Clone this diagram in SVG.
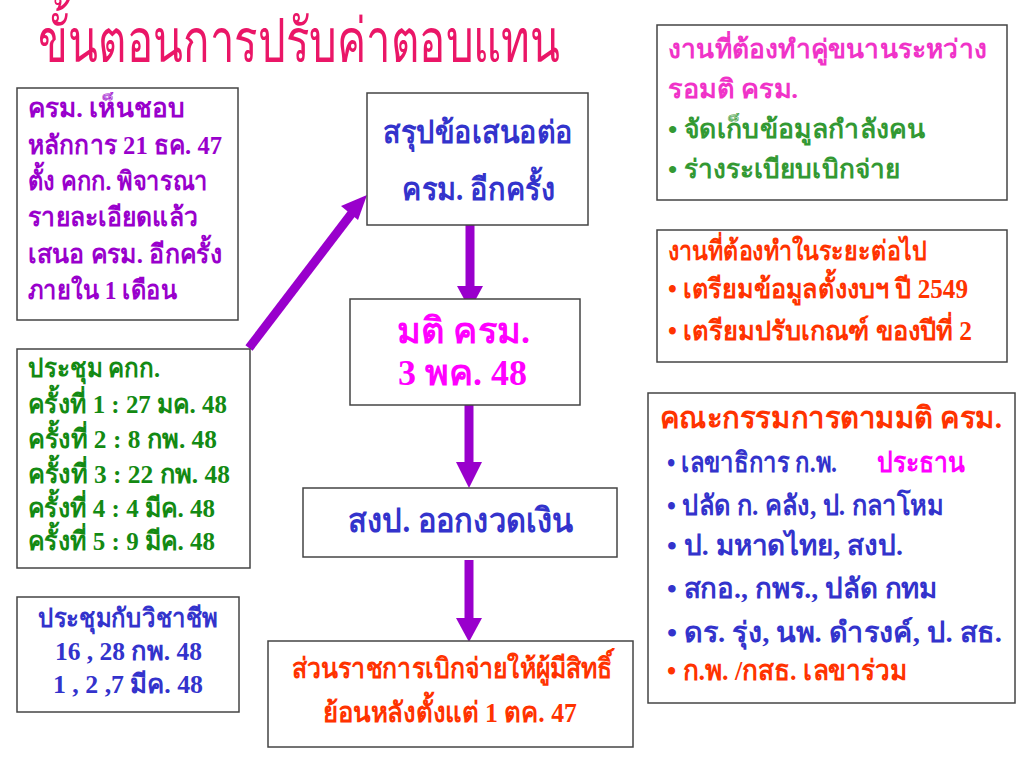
<svg xmlns="http://www.w3.org/2000/svg" width="1024" height="768" viewBox="0 0 1024 768">
<defs>
<style>
text{font-family:"Liberation Serif",serif;font-weight:bold}
.box{fill:#fff;stroke:#444;stroke-width:1.5}
.pu{fill:#9900CC;font-size:26px}
.gr{fill:#138A13;font-size:26px}
.bl{fill:#3333CC}
.mg{fill:#FF00FF}
.rd{fill:#FF3300}
.pk{fill:#F033C8}
.lg{fill:#339933}
.arr{stroke:#9900CC;stroke-width:9;fill:none}
.head{fill:#9900CC}
</style>
</defs>
<rect width="1024" height="768" fill="#fff"/>
<text x="0" y="0" font-size="44" transform="translate(38,62) scale(1,1.4)" textLength="522" lengthAdjust="spacingAndGlyphs" style="font-weight:normal" fill="#EA1667">ขั้นตอนการปรับค่าตอบแทน</text>

<g id="connectors">
<line class="arr" x1="249" y1="348" x2="352" y2="213"/>
<polygon class="head" points="367,195 341,206 358,220"/>
<line class="arr" x1="470" y1="225" x2="470" y2="288"/>
<polygon class="head" points="457,286 483,286 470,310"/>
<line class="arr" x1="469" y1="405" x2="469" y2="464"/>
<polygon class="head" points="456,462 482,462 469,488"/>
<line class="arr" x1="469" y1="560" x2="469" y2="620"/>
<polygon class="head" points="456,618 482,618 469,642"/>
</g>

<g id="node-cabinet-approval">
<rect class="box" x="17" y="88" width="221" height="232"/>
<text class="pu" x="28" y="117" textLength="157" lengthAdjust="spacingAndGlyphs">ครม. เห็นชอบ</text>
<text class="pu" x="28" y="154" textLength="194" lengthAdjust="spacingAndGlyphs">หลักการ 21  ธค. 47</text>
<text class="pu" x="28" y="190" textLength="180" lengthAdjust="spacingAndGlyphs">ตั้ง คกก. พิจารณา</text>
<text class="pu" x="28" y="226" textLength="170" lengthAdjust="spacingAndGlyphs">รายละเอียดแล้ว</text>
<text class="pu" x="28" y="263" textLength="194" lengthAdjust="spacingAndGlyphs">เสนอ ครม. อีกครั้ง</text>
<text class="pu" x="28" y="299" textLength="149" lengthAdjust="spacingAndGlyphs">ภายใน 1 เดือน</text>
</g>

<g id="node-meetings">
<rect class="box" x="17" y="349" width="233" height="219"/>
<text class="gr" x="28" y="377" textLength="132" lengthAdjust="spacingAndGlyphs">ประชุม คกก.</text>
<text class="gr" x="28" y="413" textLength="199" lengthAdjust="spacingAndGlyphs">ครั้งที่ 1 : 27 มค. 48</text>
<text class="gr" x="28" y="448" textLength="189" lengthAdjust="spacingAndGlyphs">ครั้งที่ 2 : 8 กพ. 48</text>
<text class="gr" x="28" y="483" textLength="202" lengthAdjust="spacingAndGlyphs">ครั้งที่ 3 : 22 กพ. 48</text>
<text class="gr" x="28" y="517" textLength="187" lengthAdjust="spacingAndGlyphs">ครั้งที่ 4 : 4 มีค. 48</text>
<text class="gr" x="28" y="550" textLength="187" lengthAdjust="spacingAndGlyphs">ครั้งที่ 5 : 9 มีค. 48</text>
</g>

<g id="node-professions">
<rect class="box" x="17" y="597" width="222" height="115"/>
<text class="bl" font-size="26" x="38" y="627" textLength="180" lengthAdjust="spacingAndGlyphs">ประชุมกับวิชาชีพ</text>
<text class="bl" font-size="26" x="55" y="660" textLength="147" lengthAdjust="spacingAndGlyphs">16 , 28 กพ. 48</text>
<text class="bl" font-size="26" x="53" y="693" textLength="150" lengthAdjust="spacingAndGlyphs">1 , 2 ,7  มีค. 48</text>
</g>

<g id="node-summary">
<rect class="box" x="367" y="93" width="221" height="132"/>
<text class="bl" font-size="31" x="383" y="143" textLength="190" lengthAdjust="spacingAndGlyphs">สรุปข้อเสนอต่อ</text>
<text class="bl" font-size="31" x="402" y="200" textLength="153" lengthAdjust="spacingAndGlyphs">ครม. อีกครั้ง</text>
</g>

<g id="node-resolution">
<rect class="box" x="350" y="299" width="230" height="106"/>
<text class="mg" font-size="36" x="397" y="343" textLength="133" lengthAdjust="spacingAndGlyphs">มติ ครม.</text>
<text class="mg" font-size="36" x="398" y="385" textLength="129" lengthAdjust="spacingAndGlyphs">3 พค. 48</text>
</g>

<g id="node-budget">
<rect class="box" x="303" y="488" width="314" height="69"/>
<text class="bl" font-size="34" x="348" y="532" textLength="225" lengthAdjust="spacingAndGlyphs" style="font-weight:600">สงป. ออกงวดเงิน</text>
</g>

<g id="node-payment">
<rect class="box" x="268" y="641" width="365" height="106"/>
<text class="rd" font-size="28" x="292" y="678" textLength="320" lengthAdjust="spacingAndGlyphs">ส่วนราชการเบิกจ่ายให้ผู้มีสิทธิ์</text>
<text class="rd" font-size="28" x="323" y="722" textLength="254" lengthAdjust="spacingAndGlyphs">ย้อนหลังตั้งแต่ 1 ตค. 47</text>
</g>

<g id="node-parallel">
<rect class="box" x="657" y="25" width="350" height="175"/>
<g font-size="26" style="font-weight:600">
<text class="pk" x="668" y="58" textLength="319" lengthAdjust="spacingAndGlyphs">งานที่ต้องทำคู่ขนานระหว่าง</text>
<text class="pk" x="668" y="98" textLength="130" lengthAdjust="spacingAndGlyphs">รอมติ ครม.</text>
<text class="lg" x="668" y="138" textLength="257" lengthAdjust="spacingAndGlyphs">• จัดเก็บข้อมูลกำลังคน</text>
<text class="lg" x="668" y="178" textLength="232" lengthAdjust="spacingAndGlyphs">• ร่างระเบียบเบิกจ่าย</text>
</g>
</g>

<g id="node-next">
<rect class="box" x="657" y="230" width="350" height="132"/>
<text class="rd" font-size="27" x="668" y="260" textLength="259" lengthAdjust="spacingAndGlyphs">งานที่ต้องทำในระยะต่อไป</text>
<text class="rd" font-size="27" x="668" y="298" textLength="300" lengthAdjust="spacingAndGlyphs">• เตรียมข้อมูลตั้งงบฯ ปี 2549</text>
<text class="rd" font-size="27" x="668" y="340" textLength="304" lengthAdjust="spacingAndGlyphs">• เตรียมปรับเกณฑ์ ของปีที่ 2</text>
</g>

<g id="node-committee">
<rect class="box" x="648" y="393" width="367" height="310"/>
<text class="rd" font-size="30" x="660" y="428" textLength="342" lengthAdjust="spacingAndGlyphs">คณะกรรมการตามมติ ครม.</text>
<g class="bl" font-size="28" style="font-weight:600">
<text x="667" y="472" textLength="170" lengthAdjust="spacingAndGlyphs">• เลขาธิการ ก.พ.</text>
<text class="mg" x="877" y="472" textLength="88" lengthAdjust="spacingAndGlyphs">ประธาน</text>
<text x="667" y="515" textLength="276" lengthAdjust="spacingAndGlyphs">• ปลัด ก. คลัง, ป. กลาโหม</text>
<text x="667" y="555" textLength="236" lengthAdjust="spacingAndGlyphs">• ป. มหาดไทย,  สงป.</text>
<text x="667" y="598" textLength="270" lengthAdjust="spacingAndGlyphs">• สกอ.,  กพร.,  ปลัด กทม</text>
<text x="667" y="642" textLength="335" lengthAdjust="spacingAndGlyphs">• ดร. รุ่ง,  นพ. ดำรงค์, ป. สธ.</text>
<text class="rd" x="667" y="680" textLength="240" lengthAdjust="spacingAndGlyphs">• ก.พ. /กสธ.  เลขาร่วม</text>
</g>
</g>
</svg>
